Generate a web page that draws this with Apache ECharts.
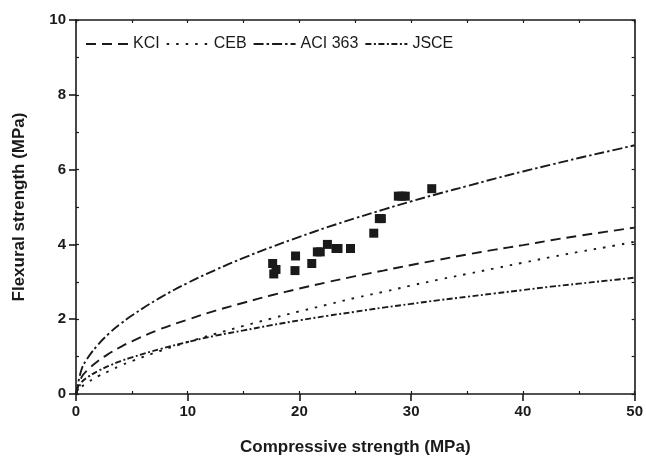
<!DOCTYPE html>
<html>
<head>
<meta charset="utf-8">
<script src="https://cdn.jsdelivr.net/npm/echarts@6/dist/echarts.min.js"></script>
<style>
  html, body { margin: 0; padding: 0; background: #fff; }
  #chart { width: 646px; height: 464px; }
</style>
</head>
<body>
<div id="chart"></div>
<script>
// compressive strength sample points (MPa)
const fcPoints = [0, 0.5, 1, 2, 3, 4, 5, 7.5, 10, 12.5, 15, 17.5, 20, 22.5, 25, 27.5, 30, 32.5, 35, 37.5, 40, 42.5, 45, 47.5, 50]

// flexural strength
const kciValues = [0, 0.45, 0.63, 0.89, 1.09, 1.26, 1.41, 1.73, 1.99, 2.23, 2.44, 2.64, 2.82, 2.99, 3.15, 3.30, 3.45, 3.59, 3.73, 3.86, 3.98, 4.11, 4.23, 4.34, 4.45]
const cebValues = [0, 0.19, 0.30, 0.48, 0.62, 0.76, 0.88, 1.15, 1.39, 1.61, 1.82, 2.02, 2.21, 2.39, 2.57, 2.73, 2.90, 3.06, 3.21, 3.36, 3.51, 3.66, 3.80, 3.93, 4.07]
const aciValues = [0, 0.66, 0.94, 1.33, 1.63, 1.88, 2.10, 2.57, 2.97, 3.32, 3.64, 3.93, 4.20, 4.46, 4.70, 4.93, 5.15, 5.36, 5.56, 5.76, 5.95, 6.13, 6.31, 6.48, 6.65]
const jsceValues = [0, 0.31, 0.44, 0.62, 0.76, 0.88, 0.98, 1.20, 1.39, 1.56, 1.70, 1.84, 1.97, 2.09, 2.20, 2.31, 2.41, 2.51, 2.60, 2.69, 2.78, 2.87, 2.95, 3.03, 3.11]

// measured specimens
const testFc = [17.6, 17.9, 17.7, 19.65, 19.6, 21.1, 21.6, 21.86, 22.5, 23.27, 23.45, 24.57, 26.65, 27.15, 27.33, 28.85, 29.16, 29.47, 31.84]
const testFr = [3.49, 3.33, 3.21, 3.69, 3.30, 3.49, 3.80, 3.80, 4.00, 3.89, 3.89, 3.89, 4.30, 4.69, 4.69, 5.29, 5.29, 5.29, 5.49]

const xTicks = [0, 10, 20, 30, 40, 50]
const yTicks = [0, 2, 4, 6, 8, 10]

const INK = '#1a1a1a'
const FONT = 'Liberation Sans, Arial, sans-serif'

const zip = (xs, ys) => xs.map((x, i) => [x, ys[i]])

const curve = (name, values, dash) => ({
  name,
  type: 'line',
  data: zip(fcPoints, values),
  smooth: 0.4,
  symbol: 'none',
  showSymbol: false,
  lineStyle: { color: INK, width: 1.9, type: dash },
  itemStyle: { color: INK },
  z: 2
})

const hiddenAxis = extra => Object.assign({
  type: 'value',
  axisLabel: { show: false },
  splitLine: { show: false },
  axisLine: { show: true, onZero: false, lineStyle: { color: INK, width: 1.6 } },
  axisTick: { show: true, inside: true, length: 3, lineStyle: { color: INK, width: 1.2 } }
}, extra)

const chart = echarts.init(document.getElementById('chart'))
chart.setOption({
  animation: false,
  backgroundColor: '#fff',
  grid: { left: 76, right: 11, top: 20, bottom: 70 },
  legend: {
    data: ['KCI', 'CEB', 'ACI 363', 'JSCE'],
    left: 80,
    top: 31,
    itemWidth: 42,
    itemHeight: 14,
    itemGap: 6,
    itemStyle: { opacity: 0 },
    textStyle: { fontFamily: FONT, fontSize: 16, color: INK }
  },
  xAxis: [
    {
      type: 'value',
      position: 'bottom',
      min: xTicks[0],
      max: xTicks[xTicks.length - 1],
      interval: 10,
      name: 'Compressive strength (MPa)',
      nameLocation: 'middle',
      nameGap: 45,
      nameTextStyle: { fontFamily: FONT, fontSize: 17, fontWeight: 'bold', color: INK },
      axisLine: { show: true, onZero: false, lineStyle: { color: INK, width: 1.6 } },
      axisTick: { show: true, inside: false, length: 7, lineStyle: { color: INK, width: 1.6 } },
      axisLabel: { fontFamily: FONT, fontSize: 15, fontWeight: 'bold', color: INK, margin: 10 },
      splitLine: { show: false }
    },
    hiddenAxis({ position: 'top', min: 0, max: 50, interval: 5 }),
    hiddenAxis({ position: 'bottom', min: 0, max: 50, interval: 5, axisLine: { show: false, onZero: false } })
  ],
  yAxis: [
    {
      type: 'value',
      position: 'left',
      min: yTicks[0],
      max: yTicks[yTicks.length - 1],
      interval: 2,
      name: 'Flexural strength (MPa)',
      nameLocation: 'middle',
      nameGap: 48,
      nameTextStyle: { fontFamily: FONT, fontSize: 17, fontWeight: 'bold', color: INK },
      axisLine: { show: true, onZero: false, lineStyle: { color: INK, width: 1.6 } },
      axisTick: { show: true, inside: false, length: 7, lineStyle: { color: INK, width: 1.6 } },
      axisLabel: { fontFamily: FONT, fontSize: 15, fontWeight: 'bold', color: INK, margin: 10 },
      splitLine: { show: false }
    },
    hiddenAxis({ position: 'right', min: 0, max: 10, interval: 1 }),
    hiddenAxis({ position: 'left', min: 0, max: 10, interval: 1, axisLine: { show: false, onZero: false } })
  ],
  series: [
    curve('KCI', kciValues, [10, 6]),
    curve('CEB', cebValues, [2.5, 7]),
    curve('ACI 363', aciValues, [10, 3, 2.5, 3]),
    curve('JSCE', jsceValues, [6, 2.5, 2, 2.5]),
    {
      name: 'Test',
      type: 'scatter',
      data: zip(testFc, testFr),
      symbol: 'rect',
      symbolSize: 9,
      itemStyle: { color: INK, opacity: 1 },
      z: 3
    }
  ]
})
</script>
</body>
</html>
